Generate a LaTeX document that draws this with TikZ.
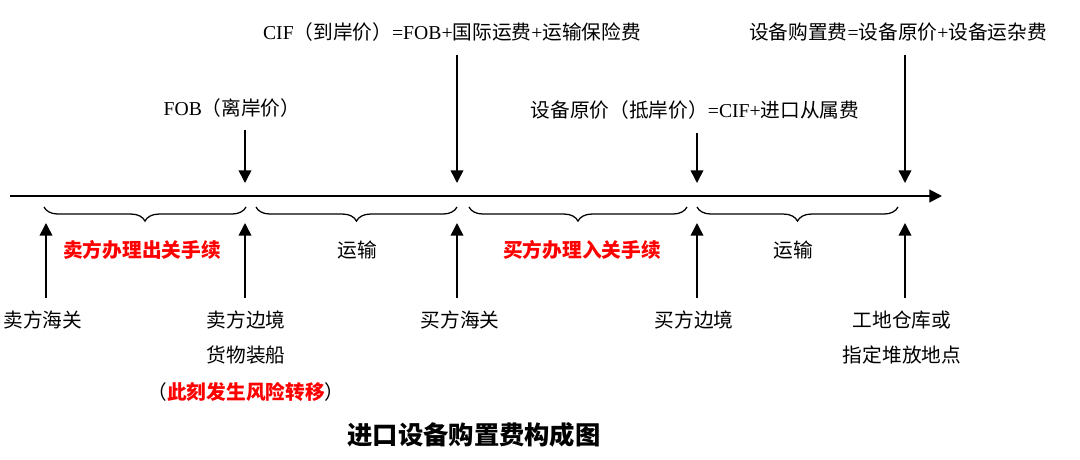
\documentclass[tikz,border=0pt]{standalone}
\usepackage{fontspec}
\setmainfont{Liberation Serif}
\newfontfamily\cjk{Noto Sans CJK SC}
\usetikzlibrary{arrows.meta,decorations.pathreplacing}
\newcommand{\latn}[1]{{\rmfamily #1}}

\begin{document}
\begin{tikzpicture}[x=0.025cm, y=-0.025cm,
    label/.style={font=\cjk\fontsize{14}{25}\selectfont, inner sep=0pt, align=center},
    redlabel/.style={label, font=\cjk\bfseries\fontsize{14}{25}\selectfont, text=red},
    arrow/.style={-{Triangle[length=9pt,width=9pt]}, line width=1.1pt},
    timeline/.style={-{Triangle[length=9pt,width=9pt]}, line width=1.4pt},
    bracket/.style={decorate, decoration={brace, mirror, amplitude=10pt}, line width=0.9pt}
]
\useasboundingbox (0,0) rectangle (1080,460);
% time line
\coordinate (axStart) at (10,196);
\coordinate (axEnd) at (942,196);
\draw[timeline] (axStart) -- (axEnd);
% prices above the line
\node[label] (fob) at (232,108) {\latn{FOB}（离岸价）};
\node[label] (cif) at (452,32) {\latn{CIF}（到岸价）\latn{=FOB+}国际运费\latn{+}运输保险费};
\node[label] (yuanjia) at (695,110) {设备原价（抵岸价）\latn{=CIF+}进口从属费};
\node[label] (gouzhi) at (898,32) {设备购置费\latn{=}设备原价\latn{+}设备运杂费};
\coordinate (fobTop) at (245,130);
\coordinate (fobPt) at (245,183);
\coordinate (cifTop) at (457,55);
\coordinate (cifPt) at (457,183);
\coordinate (yjTop) at (697,133);
\coordinate (yjPt) at (697,183);
\coordinate (gzTop) at (905,55);
\coordinate (gzPt) at (905,183);
\draw[arrow] (fobTop) -- (fobPt);
\draw[arrow] (cifTop) -- (cifPt);
\draw[arrow] (yjTop) -- (yjPt);
\draw[arrow] (gzTop) -- (gzPt);
% stages
\draw[bracket] (44,207) -- (246,207);
\draw[bracket] (256,207) -- (457,207);
\draw[bracket] (469,207) -- (687,207);
\draw[bracket] (697,207) -- (898,207);
\node[redlabel] (chuguan) at (142,250) {卖方办理出关手续};
\node[label] (yunshu1) at (357,250) {运输};
\node[redlabel] (ruguan) at (582,250) {买方办理入关手续};
\node[label] (yunshu2) at (793,250) {运输};
% places below the line
\coordinate (mfhgBot) at (46,298);
\coordinate (mfhgPt) at (46,223);
\coordinate (mfbjBot) at (245,298);
\coordinate (mfbjPt) at (245,223);
\coordinate (bfhgBot) at (457,298);
\coordinate (bfhgPt) at (457,223);
\coordinate (bfbjBot) at (697,298);
\coordinate (bfbjPt) at (697,223);
\coordinate (gdBot) at (905,298);
\coordinate (gdPt) at (905,223);
\draw[arrow] (mfhgBot) -- (mfhgPt);
\draw[arrow] (mfbjBot) -- (mfbjPt);
\draw[arrow] (bfhgBot) -- (bfhgPt);
\draw[arrow] (bfbjBot) -- (bfbjPt);
\draw[arrow] (gdBot) -- (gdPt);
\node[label] (mfhg) at (43,320) {卖方海关};
\node[label] (mfbj) at (246,337.5) {卖方边境\\货物装船};
\node[label] (risk) at (246,392) {（\textcolor{red}{\bfseries 此刻发生风险转移}）};
\node[label] (bfhg) at (460,320) {买方海关};
\node[label] (bfbj) at (694,320) {买方边境};
\node[label] (gongdi) at (902,337.5) {工地仓库或\\指定堆放地点};
\node[font=\cjk\bfseries\fontsize{18}{20}\selectfont] (title) at (474,435) {进口设备购置费构成图};
\end{tikzpicture}
\end{document}
